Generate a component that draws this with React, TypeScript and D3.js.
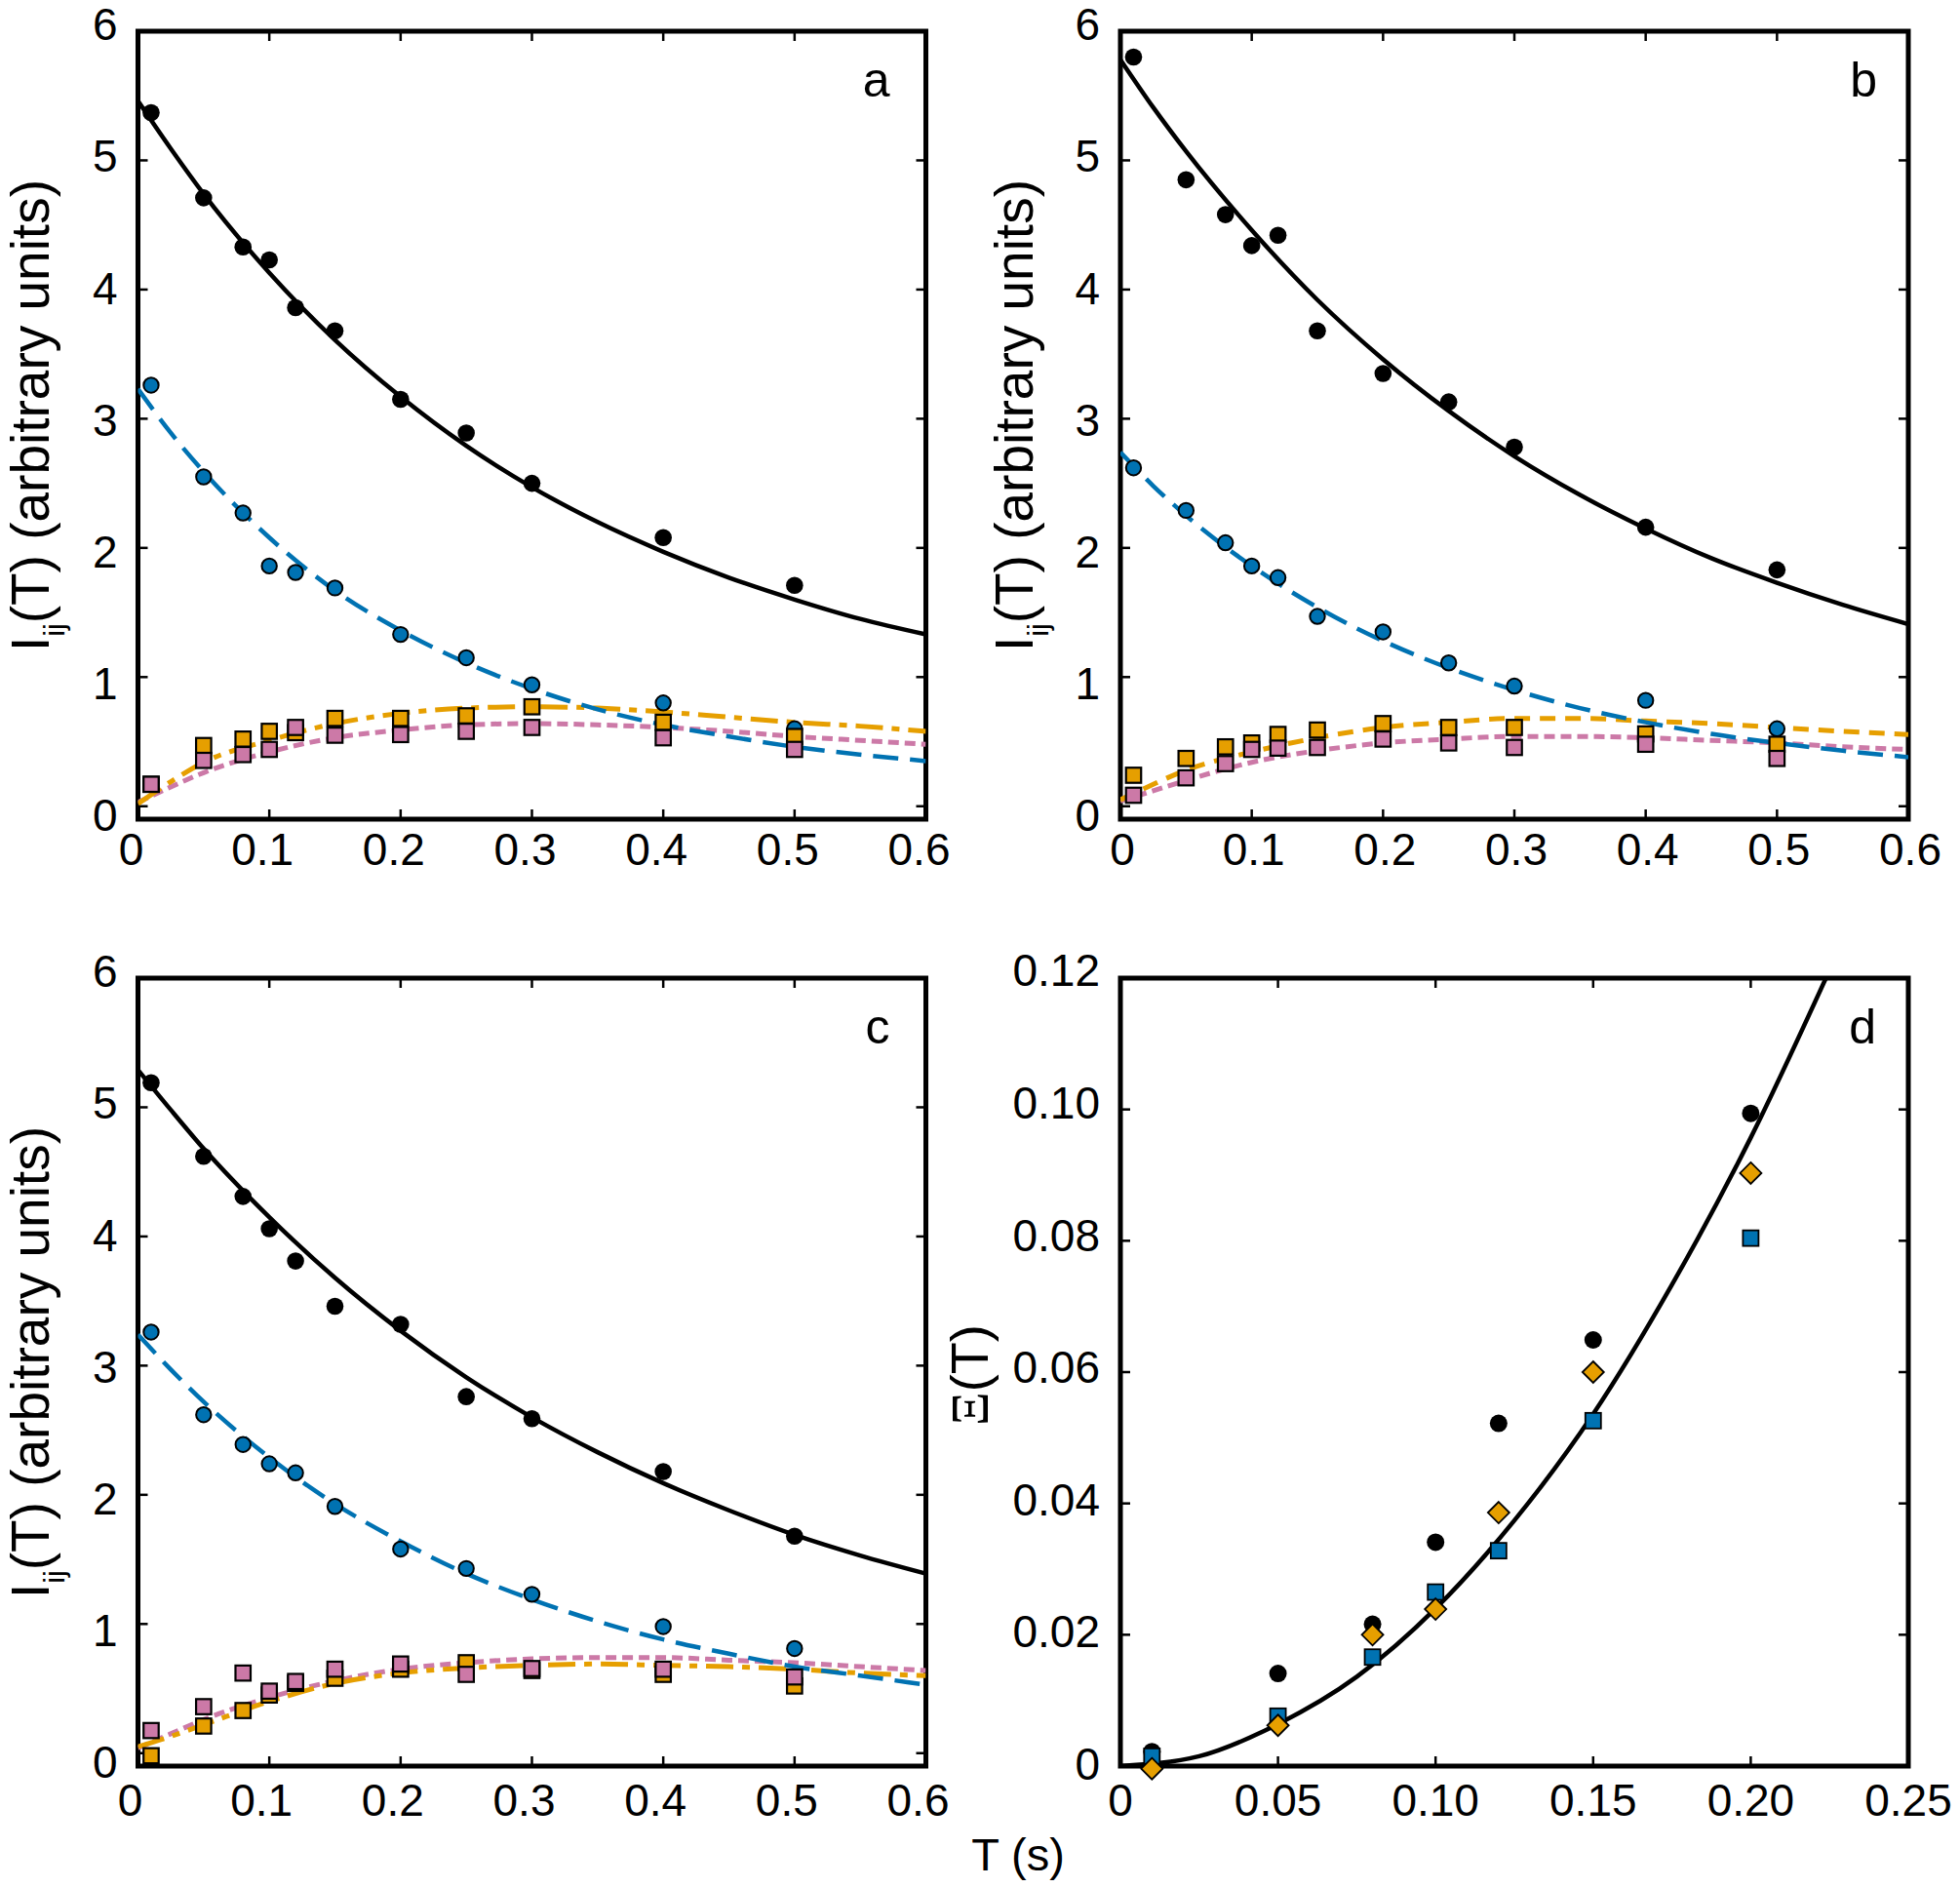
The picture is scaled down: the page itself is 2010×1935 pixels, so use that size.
import React from "react";
import * as d3 from "d3";

// ---------- data ----------
const T_DATA = [0.01, 0.05, 0.08, 0.1, 0.12, 0.15, 0.2, 0.25, 0.3, 0.4, 0.5];
const T_FIT = [0, 0.025, 0.05, 0.1, 0.15, 0.2, 0.25, 0.3, 0.35, 0.4, 0.45, 0.5, 0.55, 0.6];

// panel a
const A_BLACK = [5.37, 4.71, 4.33, 4.23, 3.86, 3.68, 3.15, 2.89, 2.5, 2.08, 1.71];
const A_BLUE = [3.26, 2.55, 2.27, 1.86, 1.81, 1.69, 1.33, 1.15, 0.94, 0.8, 0.6];
const A_ORANGE = [0.17, 0.47, 0.52, 0.58, 0.57, 0.68, 0.68, 0.7, 0.77, 0.65, 0.54];
const A_PINK = [0.17, 0.355, 0.4, 0.44, 0.61, 0.55, 0.555, 0.58, 0.61, 0.53, 0.44];
const A_BLACK_FIT = [5.46, 5.09, 4.74, 4.13, 3.61, 3.17, 2.79, 2.47, 2.2, 1.97, 1.77, 1.6, 1.45, 1.33];
const A_BLUE_FIT = [3.23, 2.89, 2.59, 2.08, 1.67, 1.36, 1.11, 0.91, 0.75, 0.63, 0.54, 0.46, 0.4, 0.35];
const A_ORANGE_FIT = [0.02, 0.19, 0.34, 0.51, 0.64, 0.72, 0.76, 0.77, 0.76, 0.73, 0.69, 0.65, 0.62, 0.58];
const A_PINK_FIT = [0.03, 0.15, 0.26, 0.42, 0.53, 0.59, 0.63, 0.64, 0.63, 0.61, 0.58, 0.54, 0.51, 0.48];

// panel b
const B_BLACK = [5.8, 4.85, 4.58, 4.34, 4.42, 3.68, 3.35, 3.13, 2.78, 2.16, 1.83];
const B_BLUE = [2.62, 2.29, 2.04, 1.86, 1.77, 1.47, 1.35, 1.11, 0.93, 0.82, 0.6];
const B_ORANGE = [0.24, 0.37, 0.46, 0.49, 0.556, 0.59, 0.64, 0.61, 0.61, 0.56, 0.48];
const B_PINK = [0.085, 0.22, 0.33, 0.44, 0.45, 0.455, 0.52, 0.49, 0.455, 0.48, 0.37];
const B_BLACK_FIT = [5.78, 5.41, 5.07, 4.46, 3.92, 3.46, 3.06, 2.71, 2.41, 2.15, 1.92, 1.73, 1.56, 1.41];
const B_BLUE_FIT = [2.74, 2.48, 2.25, 1.86, 1.54, 1.28, 1.07, 0.9, 0.76, 0.65, 0.56, 0.49, 0.43, 0.38];
const B_ORANGE_FIT = [0.05, 0.17, 0.28, 0.42, 0.53, 0.61, 0.65, 0.68, 0.68, 0.66, 0.64, 0.61, 0.58, 0.555];
const B_PINK_FIT = [0.04, 0.12, 0.2, 0.34, 0.43, 0.49, 0.52, 0.54, 0.54, 0.53, 0.51, 0.49, 0.46, 0.44];

// panel c
const C_BLACK = [5.19, 4.62, 4.31, 4.06, 3.81, 3.46, 3.32, 2.76, 2.59, 2.18, 1.68];
const C_BLUE = [3.26, 2.62, 2.39, 2.24, 2.17, 1.91, 1.58, 1.43, 1.23, 0.98, 0.81];
const C_ORANGE = [-0.02, 0.21, 0.33, 0.45, 0.54, 0.58, 0.65, 0.7, 0.64, 0.61, 0.52];
const C_PINK = [0.175, 0.36, 0.62, 0.48, 0.555, 0.65, 0.69, 0.61, 0.655, 0.65, 0.59];
const C_BLACK_FIT = [5.29, 4.98, 4.68, 4.15, 3.68, 3.27, 2.91, 2.6, 2.33, 2.09, 1.88, 1.69, 1.53, 1.39];
const C_BLUE_FIT = [3.24, 2.97, 2.72, 2.29, 1.93, 1.64, 1.39, 1.19, 1.02, 0.88, 0.77, 0.67, 0.6, 0.53];
const C_ORANGE_FIT = [0.05, 0.13, 0.22, 0.4, 0.54, 0.62, 0.66, 0.68, 0.69, 0.68, 0.67, 0.65, 0.62, 0.6];
const C_PINK_FIT = [0.04, 0.15, 0.26, 0.43, 0.56, 0.65, 0.7, 0.73, 0.74, 0.74, 0.72, 0.7, 0.67, 0.64];

// panel d
const D_T = [0.01, 0.05, 0.08, 0.1, 0.12, 0.15, 0.2];
const D_BLACK = [0.0022, 0.0141, 0.0216, 0.0341, 0.0522, 0.0649, 0.0994];
const D_BLUE = [0.0015, 0.0076, 0.0166, 0.0265, 0.0328, 0.0526, 0.0804];
const D_ORANGE = [-0.0004, 0.0062, 0.02, 0.0239, 0.0386, 0.06, 0.0903];
const D_FIT_T = [0, 0.025, 0.05, 0.075, 0.1, 0.125, 0.15, 0.175, 0.2, 0.225];
const D_FIT = [0, 0.0015, 0.0064, 0.0136, 0.024, 0.0374, 0.0536, 0.0733, 0.0957, 0.1212];

// ticks
const X_TICKS_ABC = [0, 0.1, 0.2, 0.3, 0.4, 0.5, 0.6];
const X_LABELS_ABC = ["0", "0.1", "0.2", "0.3", "0.4", "0.5", "0.6"];
const Y_TICKS_ABC = [0, 1, 2, 3, 4, 5, 6];
const Y_LABELS_ABC = ["0", "1", "2", "3", "4", "5", "6"];
const X_TICKS_D = [0, 0.05, 0.1, 0.15, 0.2, 0.25];
const X_LABELS_D = ["0", "0.05", "0.10", "0.15", "0.20", "0.25"];
const Y_TICKS_D = [0, 0.02, 0.04, 0.06, 0.08, 0.1, 0.12];
const Y_LABELS_D = ["0", "0.02", "0.04", "0.06", "0.08", "0.10", "0.12"];

// ---------- style ----------
const BLACK = "#000000";
const BLUE = "#0072B2";
const ORANGE = "#E69F00";
const PINK = "#CC79A7";
const FONT = "'Liberation Sans', Arial, Helvetica, sans-serif";
const SERIF = "'Liberation Serif', 'DejaVu Serif', serif";
const TICK_FS = 46;
const PW = 808;
const PH = 808;
const LEFT_X = 141.5;
const RIGHT_X = 1149;
const TOP_Y = 32;
const BOTTOM_Y = 1003;

type Scale = d3.ScaleLinear<number, number>;

function Frame(props: {
  x: Scale; y: Scale; yLab: Scale;
  xTicks: number[]; xLabels: string[]; yTicks: number[]; yLabels: string[];
  labelDx: number; xLabelBase: number;
}) {
  const { x, y, yLab, xTicks, xLabels, yTicks, yLabels, labelDx, xLabelBase } = props;
  const [x0, x1] = x.range();
  const [yb, yt] = y.range();
  return (
    <g>
      {xTicks.map((t, i) => (
        <g key={"xt" + i}>
          <line x1={x(t)} x2={x(t)} y1={yb} y2={yb - 10} stroke={BLACK} strokeWidth={2.5} />
          <line x1={x(t)} x2={x(t)} y1={yt} y2={yt + 10} stroke={BLACK} strokeWidth={2.5} />
          <text x={x(t) + labelDx} y={yb + xLabelBase} textAnchor="middle" fontSize={TICK_FS} fontFamily={FONT}>{xLabels[i]}</text>
        </g>
      ))}
      {yTicks.map((t, i) => (
        <g key={"yt" + i}>
          <line x1={x0} x2={x0 + 10} y1={y(t)} y2={y(t)} stroke={BLACK} strokeWidth={2.5} />
          <line x1={x1} x2={x1 - 10} y1={y(t)} y2={y(t)} stroke={BLACK} strokeWidth={2.5} />
          <text x={x0 - 21} y={yLab(t) + 16} textAnchor="end" fontSize={TICK_FS} fontFamily={FONT}>{yLabels[i]}</text>
        </g>
      ))}
      <rect x={x0} y={yt} width={x1 - x0} height={yb - yt} fill="none" stroke={BLACK} strokeWidth={5} />
    </g>
  );
}

function PanelIT(props: {
  id: string; x0: number; y0: number; letter: string; letterDx: number;
  labelDx: number; xLabelBase: number;
  black: number[]; blue: number[]; orange: number[]; pink: number[];
  blackFit: number[]; blueFit: number[]; orangeFit: number[]; pinkFit: number[];
  orangeDash: string;
}) {
  const p = props;
  const x = d3.scaleLinear().domain([0, 0.6]).range([p.x0, p.x0 + PW]);
  const y = d3.scaleLinear().domain([-0.1, 6]).range([p.y0 + PH, p.y0]);
  const yLab = d3.scaleLinear().domain([0, 6]).range([y(0) + 9.7, y(6) - 6.7]);
  const line = d3.line<number>().x((_, i) => x(T_FIT[i])).y((v) => y(v)).curve(d3.curveMonotoneX);
  const sq = 15.5;
  return (
    <g>
      <Frame x={x} y={y} yLab={yLab} xTicks={X_TICKS_ABC} xLabels={X_LABELS_ABC} yTicks={Y_TICKS_ABC}
        yLabels={Y_LABELS_ABC} labelDx={p.labelDx} xLabelBase={p.xLabelBase} />
      <clipPath id={p.id}>
        <rect x={p.x0} y={p.y0} width={PW} height={PH} />
      </clipPath>
      <g clipPath={`url(#${p.id})`} fill="none">
        <path d={line(p.pinkFit) || ""} stroke={PINK} strokeWidth={5} strokeDasharray="11 6" />
        <path d={line(p.orangeFit) || ""} stroke={ORANGE} strokeWidth={5} strokeDasharray={p.orangeDash} />
        <path d={line(p.blueFit) || ""} stroke={BLUE} strokeWidth={4.5} strokeDasharray="26 12" />
        <path d={line(p.blackFit) || ""} stroke={BLACK} strokeWidth={4.5} />
      </g>
      {p.black.map((v, i) => (
        <circle key={"k" + i} cx={x(T_DATA[i])} cy={y(v)} r={8.8} fill={BLACK} />
      ))}
      {p.blue.map((v, i) => (
        <circle key={"b" + i} cx={x(T_DATA[i])} cy={y(v)} r={7.7} fill={BLUE} stroke={BLACK} strokeWidth={2} />
      ))}
      {p.orange.map((v, i) => (
        <rect key={"o" + i} x={x(T_DATA[i]) - sq / 2} y={y(v) - sq / 2} width={sq} height={sq} fill={ORANGE} stroke={BLACK} strokeWidth={2.2} />
      ))}
      {p.pink.map((v, i) => (
        <rect key={"p" + i} x={x(T_DATA[i]) - sq / 2} y={y(v) - sq / 2} width={sq} height={sq} fill={PINK} stroke={BLACK} strokeWidth={2.2} />
      ))}
      <text x={p.x0 + PW - p.letterDx} y={p.y0 + 67} textAnchor="end" fontSize={50} fontFamily={FONT}>{p.letter}</text>
    </g>
  );
}

function PanelD(props: { x0: number; y0: number }) {
  const { x0, y0 } = props;
  const x = d3.scaleLinear().domain([0, 0.25]).range([x0, x0 + PW]);
  const y = d3.scaleLinear().domain([0, 0.12]).range([y0 + PH, y0]);
  const yLab = d3.scaleLinear().domain([0, 0.12]).range([y(0) - 2, y(0.12) - 7.7]);
  const line = d3.line<number>().x((_, i) => x(D_FIT_T[i])).y((v) => y(v)).curve(d3.curveMonotoneX);
  const sq = 16;
  const dr = 11;
  return (
    <g>
      <Frame x={x} y={y} yLab={yLab} xTicks={X_TICKS_D} xLabels={X_LABELS_D} yTicks={Y_TICKS_D}
        yLabels={Y_LABELS_D} labelDx={0} xLabelBase={51} />
      <clipPath id="clip-d">
        <rect x={x0} y={y0} width={PW} height={PH} />
      </clipPath>
      <g clipPath="url(#clip-d)" fill="none">
        <path d={line(D_FIT) || ""} stroke={BLACK} strokeWidth={4.5} />
      </g>
      {D_BLACK.map((v, i) => (
        <circle key={"k" + i} cx={x(D_T[i])} cy={y(v)} r={9} fill={BLACK} />
      ))}
      {D_BLUE.map((v, i) => (
        <rect key={"b" + i} x={x(D_T[i]) - sq / 2} y={y(v) - sq / 2} width={sq} height={sq} fill={BLUE} stroke={BLACK} strokeWidth={1.8} />
      ))}
      {D_ORANGE.map((v, i) => {
        const cx = x(D_T[i]);
        const cy = y(v);
        return (
          <path key={"o" + i} d={`M${cx},${cy - dr}L${cx + dr},${cy}L${cx},${cy + dr}L${cx - dr},${cy}Z`}
            fill={ORANGE} stroke={BLACK} strokeWidth={1.8} />
        );
      })}
      <text x={x0 + PW - 33} y={y0 + 67} textAnchor="end" fontSize={50} fontFamily={FONT}>d</text>
    </g>
  );
}

function YTitle(props: { x: number; y: number }) {
  return (
    <text transform={`translate(${props.x},${props.y}) rotate(-90)`} textAnchor="middle" fontSize={55} fontFamily={FONT}>
      {"I"}
      <tspan fontSize={30} dy={16}>{"ij"}</tspan>
      <tspan dy={-16}>{"(T) (arbitrary units)"}</tspan>
    </text>
  );
}

export default function App() {
  return (
    <svg width={2010} height={1935} viewBox="0 0 2010 1935"
      style={{ position: "absolute", left: 0, top: 0, display: "block", background: "#ffffff" }}>
      <rect x={0} y={0} width={2010} height={1935} fill="#ffffff" />
      <PanelIT id="clip-a" x0={LEFT_X} y0={TOP_Y} letter="a" letterDx={37} labelDx={-7} xLabelBase={47}
        black={A_BLACK} blue={A_BLUE} orange={A_ORANGE} pink={A_PINK}
        blackFit={A_BLACK_FIT} blueFit={A_BLUE_FIT} orangeFit={A_ORANGE_FIT} pinkFit={A_PINK_FIT}
        orangeDash="28 9 8 9" />
      <PanelIT id="clip-b" x0={RIGHT_X} y0={TOP_Y} letter="b" letterDx={32} labelDx={2} xLabelBase={47}
        black={B_BLACK} blue={B_BLUE} orange={B_ORANGE} pink={B_PINK}
        blackFit={B_BLACK_FIT} blueFit={B_BLUE_FIT} orangeFit={B_ORANGE_FIT} pinkFit={B_PINK_FIT}
        orangeDash="16 10" />
      <PanelIT id="clip-c" x0={LEFT_X} y0={BOTTOM_Y} letter="c" letterDx={37} labelDx={-8} xLabelBase={51}
        black={C_BLACK} blue={C_BLUE} orange={C_ORANGE} pink={C_PINK}
        blackFit={C_BLACK_FIT} blueFit={C_BLUE_FIT} orangeFit={C_ORANGE_FIT} pinkFit={C_PINK_FIT}
        orangeDash="28 9 8 9" />
      <PanelD x0={RIGHT_X} y0={BOTTOM_Y} />
      <YTitle x={50} y={426} />
      <YTitle x={1059} y={426} />
      <YTitle x={50} y={1397} />
      <text transform="translate(1013,1462) rotate(-90)" fontSize={54} fontFamily={FONT}>
        <tspan fontFamily={SERIF} fontSize={54}>{"Ξ"}</tspan>
        <tspan>{"(T)"}</tspan>
      </text>
      <text x={1044} y={1918} textAnchor="middle" fontSize={47} fontFamily={FONT}>{"T (s)"}</text>
    </svg>
  );
}
